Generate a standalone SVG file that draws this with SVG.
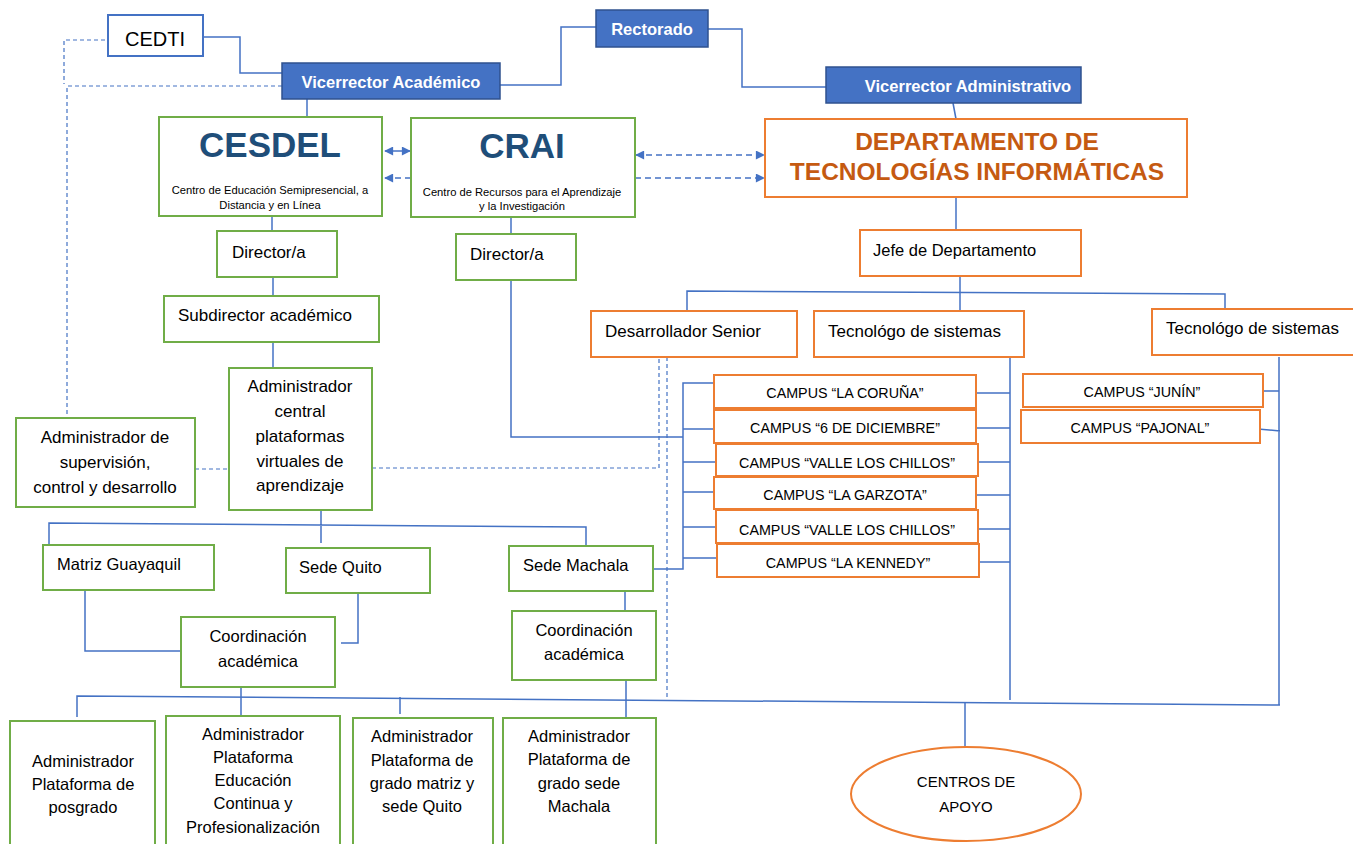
<svg xmlns="http://www.w3.org/2000/svg" width="1353" height="844" viewBox="0 0 1353 844">
<style>
.t{font-family:"Liberation Sans",Arial,sans-serif;fill:#000;}
.b{fill:#fff;stroke:#70AD47;stroke-width:2;}
.o{fill:#fff;stroke:#ED7D31;stroke-width:2;}
.f{fill:#4472C4;stroke:#2F528F;stroke-width:1.5;}
.w{font-family:"Liberation Sans",Arial,sans-serif;font-weight:bold;fill:#fff;font-size:16.5px;}
.big{font-family:"Liberation Sans",Arial,sans-serif;font-weight:bold;fill:#1F4E79;font-size:35px;}
.dep{font-family:"Liberation Sans",Arial,sans-serif;font-weight:bold;fill:#C55A11;font-size:24.5px;}
.c{text-anchor:middle;}
.s17{font-size:17px;}
.s16{font-size:16.5px;}
.s14{font-size:14.3px;}
.s11{font-size:11.2px;}
.ln{fill:none;stroke:#4472C4;stroke-width:1.5;}
.dl{fill:none;stroke:#4472C4;stroke-width:1.2;stroke-dasharray:4 3;}
.da{fill:none;stroke:#4472C4;stroke-width:1.5;stroke-dasharray:6 4;}
</style>
<defs>
<marker id="ah" viewBox="0 0 10 10" refX="9" refY="5" markerUnits="userSpaceOnUse" markerWidth="10" markerHeight="9" orient="auto-start-reverse">
<path d="M0 0L10 5L0 10z" fill="#4472C4"/>
</marker>
</defs>

<g id="connectors">
<path class="ln" d="M203 37H240V73H282"/>
<path class="ln" d="M596 27H561V85H500"/>
<path class="ln" d="M708 29H742V87H826"/>
<path class="ln" d="M307 99V117"/>
<path class="ln" d="M953 103L956 119"/>
<path class="ln" d="M956 197V230"/>
<path class="ln" d="M960 276V311"/>
<path class="ln" d="M687 311V291L1225 294V309"/>
<path class="ln" d="M385 151H410" marker-start="url(#ah)" marker-end="url(#ah)" stroke-width="2"/>
<path class="da" d="M411 178H385" marker-end="url(#ah)"/>
<path class="da" d="M636 155H764" marker-start="url(#ah)" marker-end="url(#ah)"/>
<path class="da" d="M635 178H764" marker-end="url(#ah)"/>
<path class="ln" d="M272 216V231"/>
<path class="ln" d="M273 277V296"/>
<path class="ln" d="M273 342V368"/>
<path class="ln" d="M511 217V234"/>
<path class="ln" d="M511 280V437H683"/>
<path class="ln" d="M653 569H683V383H714M683 429H714M683 462H716M683 492H714M683 527H716M683 558H717"/>
<path class="ln" d="M976 393H1010M976 428H1010M978 462H1010M976 495H1010M978 529H1010M979 562H1010M1010 357V700"/>
<path class="ln" d="M1263 391H1279M1258 429L1280 431M1279 357V705"/>
<path class="ln" d="M321 510V543M49 545V523L586 527V546"/>
<path class="ln" d="M85 590V651H181"/>
<path class="ln" d="M358 593V643H341"/>
<path class="ln" d="M625 591V611"/>
<path class="ln" d="M77 717V696L1280 705"/>
<path class="ln" d="M241 687V716M400 697V714M626 680V718"/>
<path class="ln" d="M965 703V747"/>
<path class="dl" d="M105 40H64V84"/>
<path class="dl" d="M282 86H67V417"/>
<path class="dl" d="M195 469H229"/>
<path class="dl" d="M372 468H659V357H667V700"/>
</g>

<g id="cedti"><rect x="108" y="15" width="95" height="41" fill="#fff" stroke="#4472C4" stroke-width="2"/><text class="t c" x="155" y="46" font-size="20">CEDTI</text></g>
<g id="vicerrector-academico"><rect class="f" x="282" y="63" width="218" height="36"/><text class="w c" x="391" y="88">Vicerrector Académico</text></g>
<g id="rectorado"><rect class="f" x="596" y="10" width="112" height="37"/><text class="w c" x="652" y="35">Rectorado</text></g>
<g id="vicerrector-administrativo"><rect class="f" x="826" y="67" width="255" height="36"/><text class="w c" x="968" y="92">Vicerrector Administrativo</text></g>

<g id="cesdel"><rect class="b" x="159" y="117" width="223" height="99"/><text class="big c" x="270" y="157">CESDEL</text><text class="t c s11" x="270" y="194">Centro de Educación Semipresencial, a</text><text class="t c s11" x="270" y="209">Distancia y en Línea</text></g>
<g id="crai"><rect class="b" x="411" y="118" width="224" height="99"/><text class="big c" x="522" y="158">CRAI</text><text class="t c s11" x="522" y="196">Centro de Recursos para el Aprendizaje</text><text class="t c s11" x="522" y="210">y la Investigación</text></g>
<g id="dti"><rect class="o" x="765" y="119" width="422" height="78"/><text class="dep c" x="977" y="150">DEPARTAMENTO DE</text><text class="dep c" x="977" y="180">TECNOLOGÍAS INFORMÁTICAS</text></g>

<g id="director-cesdel"><rect class="b" x="217" y="231" width="120" height="46"/><text class="t s17" x="232" y="258">Director/a</text></g>
<g id="director-crai"><rect class="b" x="456" y="234" width="120" height="46"/><text class="t s17" x="470" y="260">Director/a</text></g>
<g id="subdirector"><rect class="b" x="164" y="296" width="215" height="46"/><text class="t s17" x="178" y="321">Subdirector académico</text></g>
<g id="admin-central"><rect class="b" x="229" y="368" width="143" height="142"/><text class="t c s17" x="300" y="392">Administrador</text><text class="t c s17" x="300" y="417">central</text><text class="t c s17" x="300" y="442">plataformas</text><text class="t c s17" x="300" y="467">virtuales de</text><text class="t c s17" x="300" y="491">aprendizaje</text></g>
<g id="admin-supervision"><rect class="b" x="16" y="418" width="179" height="89"/><text class="t c s17" x="105" y="443">Administrador de</text><text class="t c s17" x="105" y="468">supervisión,</text><text class="t c s17" x="105" y="493">control y desarrollo</text></g>

<g id="jefe"><rect class="o" x="860" y="230" width="221" height="46"/><text class="t s16" x="873" y="256">Jefe de Departamento</text></g>
<g id="desarrollador"><rect class="o" x="591" y="311" width="206" height="46"/><text class="t s17" x="605" y="337">Desarrollador Senior</text></g>
<g id="tecnologo-1"><rect class="o" x="814" y="311" width="210" height="46"/><text class="t s17" x="828" y="337">Tecnológo de sistemas</text></g>
<g id="tecnologo-2"><rect class="o" x="1152" y="309" width="220" height="46"/><text class="t s17" x="1166" y="334">Tecnológo de sistemas</text></g>

<g id="campus-coruna"><rect class="o" x="714" y="375" width="262" height="33"/><text class="t c s14" x="845" y="398">CAMPUS “LA CORUÑA”</text></g>
<g id="campus-6dic"><rect class="o" x="714" y="410" width="262" height="33"/><text class="t c s14" x="845" y="433">CAMPUS “6 DE DICIEMBRE”</text></g>
<g id="campus-valle-1"><rect class="o" x="716" y="444" width="262" height="32"/><text class="t c s14" x="847" y="468">CAMPUS “VALLE LOS CHILLOS”</text></g>
<g id="campus-garzota"><rect class="o" x="714" y="477" width="262" height="32"/><text class="t c s14" x="845" y="500">CAMPUS “LA GARZOTA”</text></g>
<g id="campus-valle-2"><rect class="o" x="716" y="510" width="262" height="33"/><text class="t c s14" x="847" y="535">CAMPUS “VALLE LOS CHILLOS”</text></g>
<g id="campus-kennedy"><rect class="o" x="717" y="544" width="262" height="33"/><text class="t c s14" x="848" y="568">CAMPUS “LA KENNEDY”</text></g>
<g id="campus-junin"><rect class="o" x="1023" y="374" width="240" height="33"/><text class="t c s14" x="1142" y="397">CAMPUS “JUNÍN”</text></g>
<g id="campus-pajonal"><rect class="o" x="1021" y="410" width="239" height="33"/><text class="t c s14" x="1140" y="433">CAMPUS “PAJONAL”</text></g>

<g id="matriz"><rect class="b" x="43" y="545" width="171" height="45"/><text class="t s16" x="57" y="570">Matriz Guayaquil</text></g>
<g id="sede-quito"><rect class="b" x="286" y="548" width="144" height="45"/><text class="t s16" x="299" y="573">Sede Quito</text></g>
<g id="sede-machala"><rect class="b" x="509" y="546" width="144" height="45"/><text class="t s16" x="523" y="571">Sede Machala</text></g>
<g id="coord-1"><rect class="b" x="181" y="617" width="154" height="70"/><text class="t c s16" x="258" y="642">Coordinación</text><text class="t c s16" x="258" y="667">académica</text></g>
<g id="coord-2"><rect class="b" x="512" y="611" width="144" height="69"/><text class="t c s16" x="584" y="636">Coordinación</text><text class="t c s16" x="584" y="660">académica</text></g>

<g id="admin-posgrado"><rect class="b" x="10" y="721" width="145" height="130"/><text class="t c s16" x="83" y="767">Administrador</text><text class="t c s16" x="83" y="790">Plataforma de</text><text class="t c s16" x="83" y="813">posgrado</text></g>
<g id="admin-continua"><rect class="b" x="166" y="716" width="174" height="135"/><text class="t c s16" x="253" y="740">Administrador</text><text class="t c s16" x="253" y="763">Plataforma</text><text class="t c s16" x="253" y="786">Educación</text><text class="t c s16" x="253" y="809">Continua y</text><text class="t c s16" x="253" y="833">Profesionalización</text></g>
<g id="admin-matriz"><rect class="b" x="353" y="718" width="140" height="133"/><text class="t c s16" x="422" y="742">Administrador</text><text class="t c s16" x="422" y="766">Plataforma de</text><text class="t c s16" x="422" y="789">grado matriz y</text><text class="t c s16" x="422" y="812">sede Quito</text></g>
<g id="admin-machala"><rect class="b" x="503" y="718" width="153" height="133"/><text class="t c s16" x="579" y="742">Administrador</text><text class="t c s16" x="579" y="765">Plataforma de</text><text class="t c s16" x="579" y="789">grado sede</text><text class="t c s16" x="579" y="812">Machala</text></g>

<g id="centros-apoyo"><ellipse cx="966" cy="794" rx="115" ry="47" fill="#fff" stroke="#ED7D31" stroke-width="2"/><text class="t c" font-size="15" x="966" y="787">CENTROS DE</text><text class="t c" font-size="15" x="966" y="812">APOYO</text></g>
</svg>
